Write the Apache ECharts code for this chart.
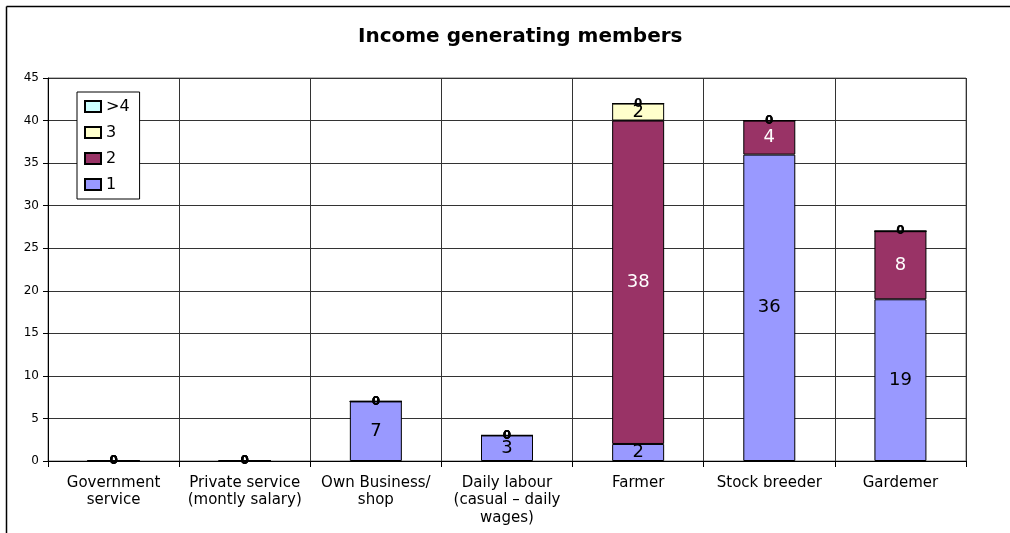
<!DOCTYPE html>
<html>
<head>
<meta charset="utf-8">
<script src="https://cdn.jsdelivr.net/npm/echarts@6/dist/echarts.min.js"></script>
<style>
html,body{margin:0;padding:0;background:#fff;}
#chart{width:1010px;height:533px;}
</style>
</head>
<body>
<div id="chart"></div>
<script>
var categories = [
  "Government\nservice",
  "Private service\n(montly salary)",
  "Own Business/\nshop",
  "Daily labour\n(casual \u2013 daily\nwages)",
  "Farmer",
  "Stock breeder",
  "Gardemer"
];
var seriesNames = ["1", "2", "3", ">4"];
var members1 = [0, 0, 7, 3, 2, 36, 19];
var members2 = [0, 0, 0, 0, 38, 4, 8];
var members3 = [0, 0, 0, 0, 2, 0, 0];
var members4 = [0, 0, 0, 0, 0, 0, 0];
var yTicks = [0, 5, 10, 15, 20, 25, 30, 35, 40, 45];

var colors = ["#9999FF", "#993366", "#FFFFCC", "#CCFFFF"];
var labelColors = ["#000", "#fff", "#000", "#000"];
var FONT = "'DejaVu Sans', 'Liberation Sans', Arial, sans-serif";

function build(vals) {
  return vals.map(function (v) {
    var item = { value: v };
    if (v === 0) {
      item.label = { color: "#000", fontSize: 12, fontWeight: "bold" };
    }
    return item;
  });
}

var allData = [members1, members2, members3, members4];
var series = allData.map(function (vals, i) {
  return {
    name: seriesNames[i],
    type: "bar",
    stack: "total",
    barWidth: 52,
    data: build(vals),
    itemStyle: { color: colors[i], borderColor: "#000", borderWidth: 1 },
    label: {
      show: true,
      position: "inside",
      color: labelColors[i],
      fontSize: 18,
      fontFamily: FONT,
      formatter: function (p) { return p.value; }
    },
    emphasis: { disabled: true }
  };
});

var chart = echarts.init(document.getElementById("chart"));
chart.setOption({
  backgroundColor: "#fff",
  animation: false,
  title: {
    text: "Income generating members",
    left: 353,
    top: 22,
    textStyle: { fontSize: 20, fontWeight: "bold", color: "#000", fontFamily: FONT }
  },
  legend: {
    orient: "vertical",
    left: 77,
    top: 92,
    data: [">4", "3", "2", "1"],
    backgroundColor: "#fff",
    borderColor: "#000",
    borderWidth: 1,
    padding: [6, 10, 6, 7],
    itemWidth: 16,
    itemHeight: 11,
    itemGap: 9,
    icon: "rect",
    textStyle: { fontSize: 16, color: "#000", fontFamily: FONT, lineHeight: 17 }
  },
  grid: {
    left: 48, right: 44, top: 78, bottom: 72,
    show: true, borderColor: "#777", borderWidth: 1,
    containLabel: false
  },
  xAxis: {
    type: "category",
    data: categories,
    axisLine: { lineStyle: { color: "#000" } },
    axisTick: { show: true, length: 6, lineStyle: { color: "#000" } },
    splitLine: { show: true, lineStyle: { color: "#333", width: 1 } },
    axisLabel: { color: "#000", fontSize: 15, fontFamily: FONT, lineHeight: 17.5, margin: 13, interval: 0 }
  },
  yAxis: {
    type: "value",
    min: yTicks[0],
    max: yTicks[yTicks.length - 1],
    interval: 5,
    axisLine: { show: true, lineStyle: { color: "#000" } },
    axisTick: { show: true, length: 5, lineStyle: { color: "#000" } },
    splitLine: { show: true, lineStyle: { color: "#333", width: 1 } },
    axisLabel: { color: "#000", fontSize: 12, fontFamily: FONT, margin: 9 }
  },
  graphic: [
    { type: "line", shape: { x1: 6.5, y1: 6.5, x2: 1010, y2: 6.5 }, style: { stroke: "#000", lineWidth: 1.5 }, silent: true },
    { type: "line", shape: { x1: 6.5, y1: 6.5, x2: 6.5, y2: 533 }, style: { stroke: "#000", lineWidth: 1.5 }, silent: true }
  ],
  series: series
});
</script>
</body>
</html>
